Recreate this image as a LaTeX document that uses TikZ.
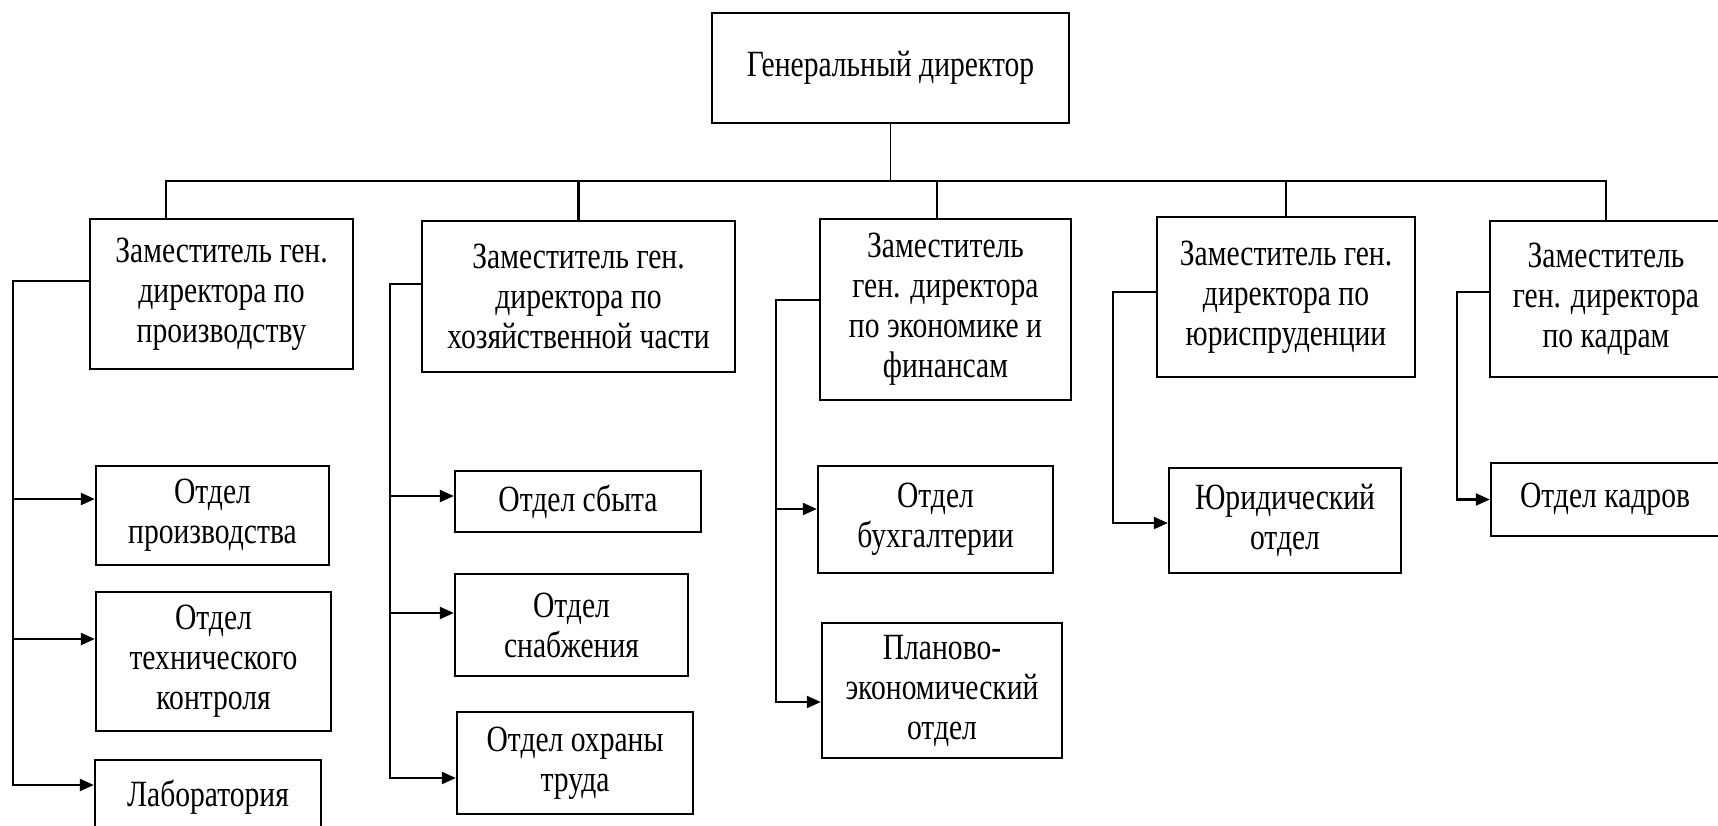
\documentclass[tikz,border=0pt]{standalone}
\usepackage{fontspec}
\setmainfont[FakeStretch=0.8]{Liberation Serif}
\usetikzlibrary{arrows.meta}

\tikzset{
	box/.style = {draw, line width = 2.4pt, align = center, inner sep = 0pt,
		font = \fontsize{37}{40}\selectfont},
	link/.style = {line width = 2.2pt},
	arr/.style = {line width = 2.2pt, -{Triangle[length = 14pt, width = 12pt]}}
}

\begin{document}
\begin{tikzpicture}[x = 1pt, y = -1pt]
	\useasboundingbox (0,0) rectangle (1718,825);
	\clip (0,0) rectangle (1718,825);
	% head and deputies
	\node [box, minimum width = 357pt, minimum height = 110pt] (gen) at (890.5,68) {Генеральный директор};
	\node [box, minimum width = 263pt, minimum height = 150pt] (z1) at (221.5,294) {Заместитель ген.\\директора по\\производству};
	\node [box, minimum width = 313pt, minimum height = 151pt] (z2) at (578.5,296.5) {Заместитель ген.\\директора по\\хозяйственной части};
	\node [box, minimum width = 251pt, minimum height = 181pt] (z3) at (945.5,309.5) {Заместитель\\ген. директора\\по экономике и\\финансам};
	\node [box, minimum width = 258pt, minimum height = 160pt] (z4) at (1286,297) {Заместитель ген.\\директора по\\юриспруденции};
	\node [box, minimum width = 232pt, minimum height = 156pt] (z5) at (1606,299) {Заместитель\\ген. директора\\по кадрам};
	% departments
	\node [box, minimum width = 233pt, minimum height = 99pt] (p1) at (212.5,515.5) {Отдел\\производства};
	\node [box, minimum width = 235pt, minimum height = 139pt] (p2) at (213.5,661.5) {Отдел\\технического\\контроля};
	\node [box, minimum width = 226pt, minimum height = 74pt] (p3) at (208,797) {Лаборатория};
	\node [box, minimum width = 246pt, minimum height = 61pt] (h1) at (578,501.5) {Отдел сбыта};
	\node [box, minimum width = 233pt, minimum height = 102pt] (h2) at (571.5,625) {Отдел\\снабжения};
	\node [box, minimum width = 236pt, minimum height = 102pt] (h3) at (575,763) {Отдел охраны\\труда};
	\node [box, minimum width = 235pt, minimum height = 107pt] (e1) at (935.5,519.5) {Отдел\\бухгалтерии};
	\node [box, minimum width = 240pt, minimum height = 135pt] (e2) at (942,690.5) {Планово-\\экономический\\отдел};
	\node [box, minimum width = 232pt, minimum height = 105pt] (j1) at (1285,520.5) {Юридический\\отдел};
	\node [box, minimum width = 228pt, minimum height = 73pt] (k1) at (1605,499.5) {Отдел кадров};
	% bus
	\coordinate (bl) at (166,181);
	\coordinate (br) at (1606,181);
	\draw [line width = 1pt] (gen.south) -- (gen.south |- bl);
	\draw [link] (bl |- z1.north) -- (bl) -- (br) -- (z5.north);
	\draw [link] (z2.north |- bl) -- (z2.north);
	\draw [link] ([xshift = -8.5pt]z3.north |- bl) -- ([xshift = -8.5pt]z3.north);
	\draw [link] (z4.north |- bl) -- (z4.north);
	% rails
	\coordinate (r1) at (13,281);
	\coordinate (r2) at (390,284);
	\coordinate (r3) at (776,300);
	\coordinate (r4) at (1113,292);
	\coordinate (r5) at (1457,292);
	\draw [arr] (r1 -| z1.west) -- (r1) |- ([yshift = 12pt]p3.west);
	\draw [arr] ([yshift = 16.5pt]p1.west -| r1) -- ([yshift = 16.5pt]p1.west);
	\draw [arr] ([yshift = 22.5pt]p2.west -| r1) -- ([yshift = 22.5pt]p2.west);
	\draw [arr] (r2 -| z2.west) -- (r2) |- ([yshift = -15pt]h3.west);
	\draw [arr] ([yshift = 5.5pt]h1.west -| r2) -- ([yshift = 5.5pt]h1.west);
	\draw [arr] ([yshift = 12pt]h2.west -| r2) -- ([yshift = 12pt]h2.west);
	\draw [arr] (r3 -| z3.west) -- (r3) |- ([yshift = -11.5pt]e2.west);
	\draw [arr] ([yshift = 10.5pt]e1.west -| r3) -- ([yshift = 10.5pt]e1.west);
	\draw [arr] (r4 -| z4.west) -- (r4) |- ([yshift = -2.5pt]j1.west);
	\draw [arr] (r5 -| z5.west) -- (r5) |- (k1.west);
\end{tikzpicture}
\end{document}
